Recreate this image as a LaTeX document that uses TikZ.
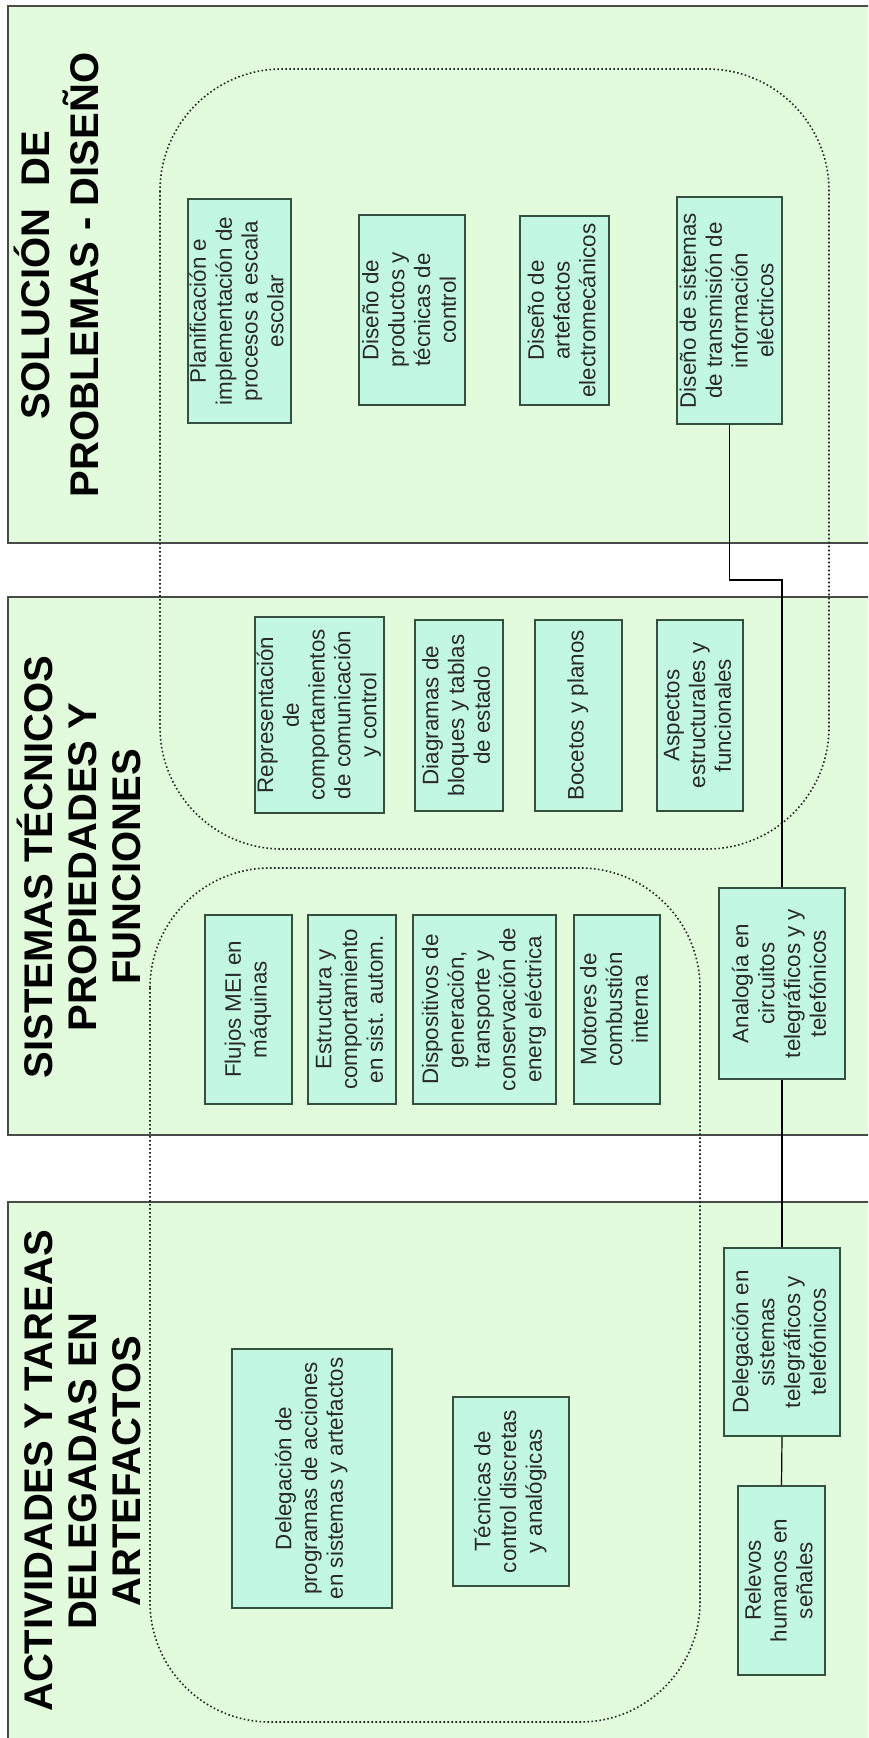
\documentclass[tikz,border=0pt]{standalone}
\usepackage{fontspec}
\setmainfont{Liberation Sans}
\definecolor{panelfill}{HTML}{E2FBDC}
\definecolor{panelline}{HTML}{4A4A4A}
\definecolor{boxfill}{HTML}{C2F8E1}
\definecolor{boxline}{HTML}{34503F}
\definecolor{boxtext}{HTML}{2A2A2A}
\newcommand\mybox[6]{\node[boxnode,minimum width={(#4-#2)*0.5pt},minimum height={(#5-#3)*0.5pt}] (#1) at ({(#2+#4)/2},{(#3+#5)/2}) {\rotatebox{90}{\begin{tabular}{@{}c@{}}#6\end{tabular}}};}
\newcommand\mytitle[4]{\node[titlenode] (#1) at (#2,#3) {\rotatebox{90}{\begin{tabular}{@{}c@{}}#4\end{tabular}}};}
\begin{document}
\begin{tikzpicture}[x=0.5pt,y=-0.5pt,
  panel/.style={fill=panelfill,draw=panelline,line width=1pt},
  dotbox/.style={draw=black!85,line width=0.8pt,dash pattern=on 0.8pt off 1.2pt},
  boxnode/.style={draw=boxline,fill=boxfill,line width=1pt,inner sep=0pt,text=boxtext,
    font=\fontsize{11.2}{12.9}\selectfont},
  titlenode/.style={inner sep=0pt,font=\fontsize{20}{22}\selectfont\bfseries},
  conn/.style={draw=black,line width=0.6pt}]
\useasboundingbox (0,0) rectangle (868,1738);
\clip (0,0) rectangle (868,1738);
\fill[white] (0,0) rectangle (868,1738);
% panels
\path[panel] (8,6) rectangle (890,543);
\path[panel] (8,597) rectangle (890,1135);
\path[panel] (8,1202) rectangle (890,1760);
% dotted rounded regions
\draw[dotbox,rounded corners=61pt] (160,69) rectangle (829,849);
\draw[dotbox,rounded corners=60pt] (150,868) rectangle (700,1722);
% titles
\mytitle{t1}{63}{275}{SOLUCIÓN\ \ DE\\PROBLEMAS - DISEÑO}
\mytitle{t2}{85}{867}{SISTEMAS TÉCNICOS\\PROPIEDADES Y\\FUNCIONES}
\mytitle{t3}{88}{1471}{ACTIVIDADES Y TAREAS\\DELEGADAS EN\\ARTEFACTOS}
% panel 1 boxes
\mybox{plan}{188}{199}{291}{423}{Planificación e\\implementación de\\procesos a escala\\escolar}
\mybox{prod}{359}{215}{465}{405}{Diseño de\\productos y\\técnicas de\\control}
\mybox{artef}{520}{216}{609}{405}{Diseño de\\artefactos\\electromecánicos}
\mybox{sist}{677}{197}{782}{424}{Diseño de sistemas\\de transmisión de\\información\\eléctricos}
% panel 2 boxes
\mybox{repr}{256}{617}{383}{813}{Representación\\de\\comportamientos\\de comunicación\\y control}
\mybox{diag}{415}{620}{503}{811}{Diagramas de\\bloques y tablas\\de estado}
\mybox{boce}{535}{620}{622}{811}{Bocetos y planos}
\mybox{aspe}{657}{620}{743}{811}{Aspectos\\estructurales y\\funcionales}
\mybox{fluj}{205}{915}{292}{1104}{Flujos MEI en\\máquinas}
\mybox{estr}{308}{915}{396}{1104}{Estructura y\\comportamiento\\en sist. autom.}
\mybox{disp}{413}{915}{556}{1104}{Dispositivos de\\generación,\\transporte y\\conservación de\\energ eléctrica}
\mybox{moto}{574}{915}{660}{1104}{Motores de\\combustión\\interna}
\mybox{anal}{719}{888}{845}{1079}{Analogía en\\circuitos\\telegráficos y y\\telefónicos}
% panel 3 boxes
\mybox{delp}{232}{1349}{392}{1608}{Delegación de\\programas de acciones\\en sistemas y artefactos}
\mybox{tecn}{453}{1397}{569}{1586}{Técnicas de\\control discretas\\y analógicas}
\mybox{dels}{724}{1248}{840}{1436}{Delegación en\\sistemas\\telegráficos y\\telefónicos}
\mybox{rele}{738}{1486}{825}{1675}{Relevos\\humanos en\\señales}
% connectors
\draw[conn] (sist.south) -- ++(0,155) -| (anal.north);
\draw[conn] (anal.south) -- (dels.north);
\draw[conn] (dels.south) -- (rele.north);
\end{tikzpicture}
\end{document}
